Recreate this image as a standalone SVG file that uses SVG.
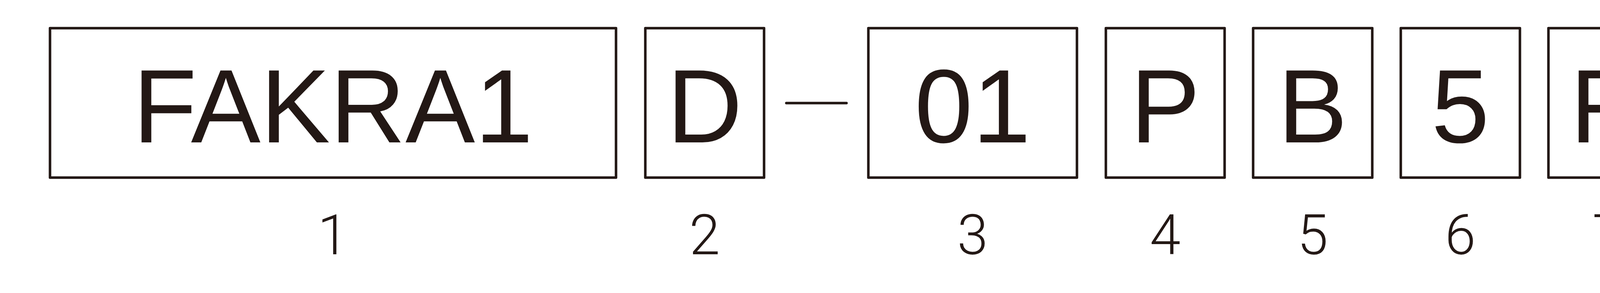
<svg xmlns="http://www.w3.org/2000/svg" width="7761" height="749" viewBox="0 0 7761 749">
<style>
.box{fill:none;stroke:#231815;stroke-width:6.5;stroke-linejoin:round}
.code{font-family:"Liberation Sans",Arial,sans-serif;font-size:267px;fill:#231815;text-anchor:middle}
.num{font-family:Roboto,"Liberation Sans",sans-serif;font-weight:300;font-size:142px;fill:#231815;text-anchor:middle}
.dash{stroke:#231815;stroke-width:6.5;stroke-linecap:round}
</style>
<rect x="0" y="0" width="7761" height="749" fill="#ffffff"/>
<g id="node1"><rect class="box" x="128" y="72" width="1449" height="382"/><text class="code" x="852.5" y="364">FAKRA1</text><text class="num" x="852.5" y="650">1</text></g>
<g id="node2"><rect class="box" x="1652" y="72" width="304" height="382"/><text class="code" x="1804" y="364">D</text><text class="num" x="1804" y="650">2</text></g>
<g id="node3"><rect class="box" x="2223" y="72" width="534" height="382"/><text class="code" x="2490" y="364">01</text><text class="num" x="2490" y="650">3</text></g>
<g id="node4"><rect class="box" x="2831" y="72" width="304" height="382"/><text class="code" x="2983" y="364">P</text><text class="num" x="2983" y="650">4</text></g>
<g id="node5"><rect class="box" x="3208" y="72" width="305" height="382"/><text class="code" x="3360.5" y="364">B</text><text class="num" x="3360.5" y="650">5</text></g>
<g id="node6"><rect class="box" x="3586" y="72" width="305" height="382"/><text class="code" x="3738.5" y="364">5</text><text class="num" x="3738.5" y="650">6</text></g>
<g id="node7"><rect class="box" x="3964" y="72" width="304" height="382"/><text class="code" x="4116" y="364">R</text><text class="num" x="4116" y="650">7</text></g>
<g id="connectors"><line class="dash" x1="2013" y1="263.5" x2="2167" y2="263.5"/></g>
</svg>
